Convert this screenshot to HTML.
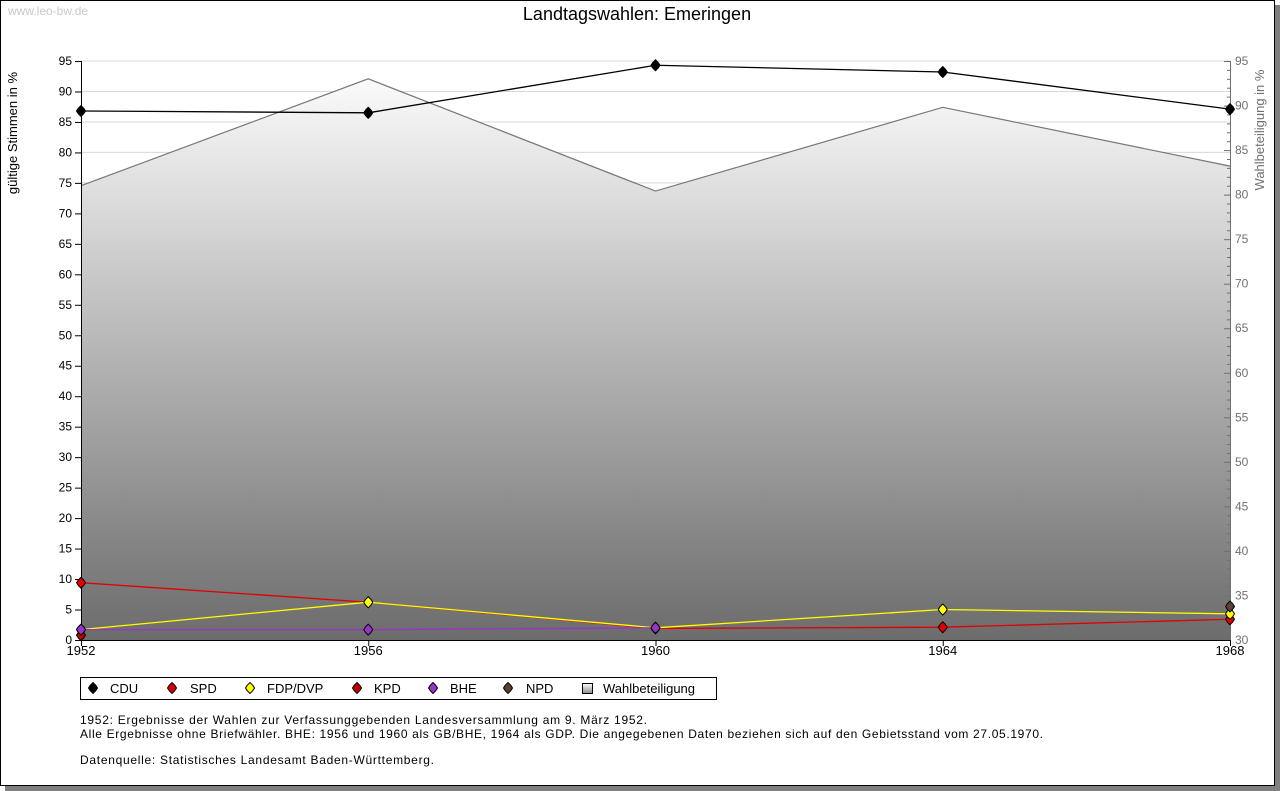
<!DOCTYPE html>
<html><head><meta charset="utf-8"><style>
html,body{margin:0;padding:0;background:#fff}
svg{display:block;font-family:"Liberation Sans",sans-serif}
</style></head><body>
<svg id="chart" width="1280" height="791" viewBox="0 0 1280 791" xmlns="http://www.w3.org/2000/svg">
<defs>
<linearGradient id="tg" gradientUnits="userSpaceOnUse" x1="0" y1="61" x2="0" y2="640">
<stop offset="0" stop-color="#ffffff"/><stop offset="1" stop-color="#6c6c6c"/>
</linearGradient>
<linearGradient id="lgG" x1="0" y1="0" x2="0" y2="1">
<stop offset="0" stop-color="#ffffff"/><stop offset="1" stop-color="#8a8a8a"/>
</linearGradient>
</defs>
<rect x="5" y="5" width="1275" height="786" fill="#808080"/>
<rect x="0.5" y="0.5" width="1274" height="785" fill="#fff" stroke="#000"/>
<text x="8" y="15" font-size="12" fill="#c8c8c8">www.leo-bw.de</text>
<text x="637" y="20" font-size="18" text-anchor="middle" fill="#000">Landtagswahlen: Emeringen</text>
<g id="grid"></g>
<g id="fill"></g>
<g id="axes"></g>
<g id="series"></g>
<text transform="translate(17,133) rotate(-90)" font-size="13" text-anchor="middle">gültige Stimmen in %</text>
<text transform="translate(1264,130) rotate(-90)" font-size="13" text-anchor="middle" fill="#707070">Wahlbeteiligung in %</text>
<g>
<rect x="80.5" y="677.5" width="636" height="22" fill="#fff" stroke="#000"/>
<g id="legend"></g>
</g>
<text x="80" y="724" font-size="12" textLength="567">1952: Ergebnisse der Wahlen zur Verfassunggebenden Landesversammlung am 9. März 1952.</text>
<text x="80" y="738" font-size="12" textLength="963">Alle Ergebnisse ohne Briefwähler. BHE: 1956 und 1960 als GB/BHE, 1964 als GDP. Die angegebenen Daten beziehen sich auf den Gebietsstand vom 27.05.1970.</text>
<text x="80" y="764" font-size="12" textLength="354">Datenquelle: Statistisches Landesamt Baden-Württemberg.</text>
</svg>
<script>
const years = [1952, 1956, 1960, 1964, 1968];
const cdu = [86.8, 86.5, 94.3, 93.2, 87.1];
const spd = [9.4, 6.2, 1.9, 2.1, 3.4];
const fdp = [1.7, 6.2, 2.0, 5.0, 4.3];
const kpd = [0.8, null, null, null, null];
const bhe = [1.7, 1.7, 2.0, null, null];
const npd = [null, null, null, null, 5.5];
const turnout = [81.0, 93.0, 80.4, 89.8, 83.2];
const leftTicks = [0,5,10,15,20,25,30,35,40,45,50,55,60,65,70,75,80,85,90,95];
const rightTicks = [30,35,40,45,50,55,60,65,70,75,80,85,90,95];
const NS='http://www.w3.org/2000/svg';
const X0=81,X1=1230,Y0=640,Y1=61;
const x=v=>X0+(v-1952)/(1968-1952)*(X1-X0);
const y=v=>Y0-v/95*(Y0-Y1);
const y2=v=>Y0-(v-30)/65*(Y0-Y1);
function mk(tag,attrs,parent){const e=document.createElementNS(NS,tag);for(const k in attrs)e.setAttribute(k,attrs[k]);parent.appendChild(e);return e;}
const grid=document.getElementById('grid'),axes=document.getElementById('axes'),ser=document.getElementById('series'),fill=document.getElementById('fill');
leftTicks.forEach(t=>{
  if(t>0){const l=mk('line',{x1:X0,x2:X1,y1:y(t),y2:y(t),stroke:'#d8d8d8'},grid);
  
  }
  mk('line',{x1:X0-6,x2:X0,y1:y(t)+.5,y2:y(t)+.5,stroke:'#000'},axes);
  const tx=mk('text',{x:X0-9,y:y(t)+4,'font-size':12,'text-anchor':'end'},axes);
  tx.textContent=t;
  
  
});
for(let v=30;v<=95;v++){mk('line',{x1:X1-(v%5?3:6),x2:X1,y1:y2(v)+.5,y2:y2(v)+.5,stroke:'#707070'},axes);}
rightTicks.forEach(t=>{
  const tx=mk('text',{x:X1+5,y:y2(t)+4,'font-size':12,fill:'#707070'},axes);
  tx.textContent=t;
  
  
});
let d='M'+x(years[0])+','+Y0;years.forEach((yr,i)=>d+=' L'+x(yr)+','+y2(turnout[i]));d+=' L'+x(years[years.length-1])+','+Y0+' Z';
const area=mk('path',{d:d,fill:'url(#tg)'},fill);


const tl=mk('polyline',{points:years.map((yr,i)=>x(yr)+','+y2(turnout[i])).join(' '),fill:'none',stroke:'#777','stroke-width':1.2},fill);


mk('line',{x1:X0+.5,x2:X0+.5,y1:Y1,y2:Y0,stroke:'#000'},axes);
mk('line',{x1:X1+.5,x2:X1+.5,y1:Y1,y2:Y0,stroke:'#707070'},axes);
mk('line',{x1:X0,x2:X1,y1:Y0+.5,y2:Y0+.5,stroke:'#000'},axes);
years.forEach(yr=>{
  mk('line',{x1:x(yr)+.5,x2:x(yr)+.5,y1:Y0,y2:Y0+6,stroke:'#000'},axes);
  const tx=mk('text',{x:x(yr),y:Y0+15,'font-size':13,'text-anchor':'middle'},axes);
  tx.textContent=yr;
  
  
});
function diamond(cx,cy,c,parent){return mk('path',{d:`M${cx},${cy-5.5} Q${cx+3},${cy-3} ${cx+4.5},${cy} Q${cx+3},${cy+3} ${cx},${cy+5.5} Q${cx-3},${cy+3} ${cx-4.5},${cy} Q${cx-3},${cy-3} ${cx},${cy-5.5} Z`,fill:c,stroke:'#000','stroke-width':1},parent);}
const seriesList=[['spd',spd,'#e00000'],['kpd',kpd,'#c00000'],['fdp',fdp,'#ffff00'],['bhe',bhe,'#9933cc'],['npd',npd,'#5c4033'],['cdu',cdu,'#000000']];
seriesList.forEach(([nm,arr,c])=>{
  const g=mk('g',{},ser);
  
  
  let seg=[];
  const flush=()=>{if(seg.length>1)mk('polyline',{points:seg.join(' '),fill:'none',stroke:c,'stroke-width':1.3},g);seg=[];};
  arr.forEach((v,i)=>{if(v==null){flush();}else seg.push(x(years[i])+','+y(v));});flush();
  arr.forEach((v,i)=>{if(v!=null){const p=diamond(x(years[i]),y(v),c,g);
    
    }});
});
const lg=document.getElementById('legend');
const legendItems=[['CDU','#000',93,110],['SPD','#e00000',172,190],['FDP/DVP','#ffff00',250,267],['KPD','#c00000',357,374],['BHE','#9933cc',433,450],['NPD','#5c4033',508,526]];
legendItems.forEach(([t,c,dx,tx])=>{
  const g=mk('g',{},lg);
  
  
  diamond(dx,688,c,g);
  const te=mk('text',{x:tx,y:693,'font-size':13},g);te.textContent=t;
});
const gw=mk('g',{},lg);


mk('rect',{x:582.5,y:683.5,width:10,height:10,fill:'url(#lgG)',stroke:'#000'},gw);
const tw=mk('text',{x:603,y:693,'font-size':13},gw);tw.textContent='Wahlbeteiligung';
</script>
</body></html>
